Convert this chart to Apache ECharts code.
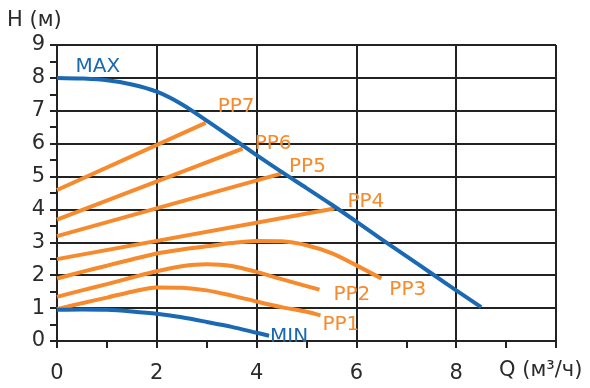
<!DOCTYPE html>
<html>
<head>
<meta charset="utf-8">
<script src="https://cdn.jsdelivr.net/npm/echarts@6/dist/echarts.min.js"></script>
<style>html,body{margin:0;padding:0;background:#fff}#c{width:590px;height:388px}</style>
</head>
<body>
<div id="c"></div>
<script>
const xTicks = [0, 2, 4, 6, 8];
const yTicks = [0, 1, 2, 3, 4, 5, 6, 7, 8, 9];
const yName = 'H (м)';
const xName = 'Q (м³/ч)';

const maxQ = [0, 0.5, 1, 1.5, 2, 2.5, 3, 3.5, 4, 4.5, 5, 5.5, 6, 6.5, 7, 7.5, 8, 8.5];
const maxH = [8, 7.98, 7.93, 7.8, 7.58, 7.2, 6.7, 6.18, 5.65, 5.14, 4.65, 4.15, 3.63, 3.1, 2.58, 2.06, 1.54, 1.03];

const minQ = [0, 0.5, 1, 1.5, 2, 2.5, 3, 3.5, 4, 4.25];
const minH = [0.95, 0.96, 0.95, 0.9, 0.83, 0.72, 0.58, 0.43, 0.25, 0.16];

const pp7Q = [0, 2.98];       const pp7H = [4.59, 6.63];
const pp6Q = [0, 3.72];       const pp6H = [3.69, 5.85];
const pp5Q = [0, 4.49];       const pp5H = [3.19, 5.09];
const pp4Q = [0, 5.56];       const pp4H = [2.49, 4.03];
const pp3Q = [0, 0.5, 1, 1.5, 2, 2.5, 3, 3.5, 4, 4.5, 5, 5.5, 6, 6.5];
const pp3H = [1.9, 2.1, 2.29, 2.48, 2.66, 2.78, 2.88, 2.98, 3.04, 3.03, 2.91, 2.67, 2.3, 1.9];
const pp2Q = [0, 0.5, 1, 1.5, 2, 2.5, 3, 3.5, 4, 4.5, 5, 5.26];
const pp2H = [1.34, 1.54, 1.73, 1.93, 2.12, 2.27, 2.33, 2.28, 2.1, 1.88, 1.67, 1.56];
const pp1Q = [0, 0.5, 1, 1.5, 2, 2.5, 3, 3.5, 4, 4.5, 5, 5.28];
const pp1H = [0.97, 1.15, 1.32, 1.5, 1.63, 1.62, 1.54, 1.38, 1.2, 1.03, 0.89, 0.78];

const BLUE = '#1a69b2';
const ORANGE = '#f68a2c';
const FONT = 'DejaVu Sans';

const zip = (a, b) => a.map((v, i) => [v, b[i]]);

function curve(name, q, h, color, smooth, offset) {
  return {
    name, type: 'line', data: zip(q, h), showSymbol: false, smooth: smooth,
    lineStyle: { color, width: 4 }, itemStyle: { color },
    silent: true, animation: false,
    endLabel: {
      show: true, formatter: name, color, fontFamily: FONT, fontSize: 20,
      distance: 0, offset: offset
    }
  };
}

const series = [
  curve('PP7', pp7Q, pp7H, ORANGE, false, [12, -16]),
  curve('PP6', pp6Q, pp6H, ORANGE, false, [12, -5]),
  curve('PP5', pp5Q, pp5H, ORANGE, false, [8, -7]),
  curve('PP4', pp4Q, pp4H, ORANGE, false, [13, -7]),
  curve('PP3', pp3Q, pp3H, ORANGE, 0.3, [8, 11]),
  curve('PP2', pp2Q, pp2H, ORANGE, 0.3, [14, 5]),
  curve('PP1', pp1Q, pp1H, ORANGE, 0.3, [2, 9]),
  curve('MIN', minQ, minH, BLUE, 0.3, [1, 1]),
  Object.assign(curve('MAX', maxQ, maxH, BLUE, 0.3, [0, 0]), {
    endLabel: { show: false },
    markPoint: {
      symbol: 'circle', symbolSize: 1, itemStyle: { color: 'rgba(0,0,0,0)' },
      silent: true, animation: false,
      data: [{ coord: [maxQ[0], maxH[0]],
        label: { show: true, formatter: 'MAX', position: 'right', distance: 0,
          offset: [18, -11], color: BLUE, fontFamily: FONT, fontSize: 20 } }]
    }
  })
];

const chart = echarts.init(document.getElementById('c'), null, { renderer: 'canvas' });
chart.setOption({
  animation: false,
  backgroundColor: '#fff',
  grid: { left: 57, right: 34, top: 45, bottom: 47, containLabel: false },
  xAxis: {
    type: 'value', min: 0, max: 10, interval: 2,
    axisLine: { show: true, onZero: false, lineStyle: { color: '#222', width: 2 } },
    axisTick: { show: true, length: 7, lineStyle: { color: '#222', width: 2 } },
    minorTick: { show: true, splitNumber: 2, length: 7, lineStyle: { color: '#222', width: 2 } },
    splitLine: { show: true, lineStyle: { color: '#222', width: 2 } },
    axisLabel: {
      margin: 22, color: '#2b2b2b', fontFamily: FONT, fontSize: 21,
      formatter: v => (xTicks.indexOf(v) >= 0 ? String(v) : '')
    }
  },
  yAxis: {
    type: 'value', min: 0, max: 9, interval: 1,
    axisLine: { show: true, onZero: false, lineStyle: { color: '#222', width: 2 } },
    axisTick: { show: true, length: 7, lineStyle: { color: '#222', width: 2 } },
    minorTick: { show: true, splitNumber: 2, length: 7, lineStyle: { color: '#222', width: 2 } },
    splitLine: { show: true, lineStyle: { color: '#222', width: 2 } },
    axisLabel: {
      margin: 12, color: '#2b2b2b', fontFamily: FONT, fontSize: 21,
      formatter: v => (yTicks.indexOf(v) >= 0 ? String(v) : '')
    }
  },
  graphic: [
    { type: 'text', left: 7, top: 10, style: { text: yName, fill: '#2b2b2b', font: '21px "DejaVu Sans"' } },
    { type: 'text', left: 499, top: 360, style: { text: xName, fill: '#2b2b2b', font: '21px "DejaVu Sans"' } }
  ],
  series
});
</script>
</body>
</html>
